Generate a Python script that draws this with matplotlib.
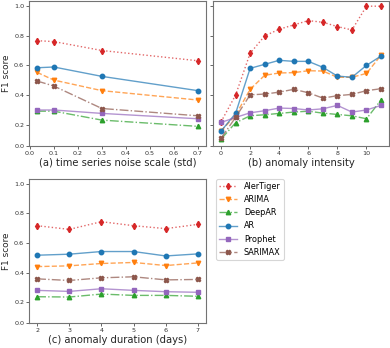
import matplotlib
matplotlib.use("Agg")
import matplotlib.pyplot as plt
from matplotlib.colors import to_rgba

# methods and styles
methods = ["AlerTiger", "ARIMA", "DeepAR", "AR", "Prophet", "SARIMAX"]
colors = ["tab:red", "tab:orange", "tab:green", "tab:blue", "tab:purple", "tab:brown"]
styles = [":", "--", "-.", "-", "-", "-."]
markers = ["d", "v", "^", "o", "s", "X"]

# (a) noise scale
noise = [0.03, 0.1, 0.3, 0.7]
f1_noise = {
    "AlerTiger": [0.766, 0.760, 0.700, 0.631],
    "ARIMA":     [0.553, 0.501, 0.430, 0.367],
    "DeepAR":    [0.292, 0.292, 0.232, 0.190],
    "AR":        [0.584, 0.589, 0.526, 0.430],
    "Prophet":   [0.300, 0.300, 0.277, 0.241],
    "SARIMAX":   [0.495, 0.461, 0.310, 0.261],
}

# (b) anomaly intensity
intensity = [0, 1, 2, 3, 4, 5, 6, 7, 8, 9, 10, 11]
f1_intensity = {
    "AlerTiger": [0.22, 0.40, 0.681, 0.798, 0.843, 0.872, 0.901, 0.89, 0.861, 0.838, 0.998, 0.998],
    "ARIMA":     [0.158, 0.265, 0.439, 0.533, 0.549, 0.551, 0.564, 0.562, 0.52, 0.52, 0.546, 0.668],
    "DeepAR":    [0.104, 0.214, 0.261, 0.268, 0.277, 0.286, 0.292, 0.279, 0.27, 0.261, 0.241, 0.367],
    "AR":        [0.158, 0.277, 0.58, 0.607, 0.634, 0.627, 0.627, 0.587, 0.528, 0.52, 0.60, 0.663],
    "Prophet":   [0.216, 0.25, 0.281, 0.295, 0.313, 0.31, 0.30, 0.308, 0.331, 0.286, 0.30, 0.331],
    "SARIMAX":   [0.11, 0.25, 0.402, 0.407, 0.42, 0.439, 0.416, 0.38, 0.396, 0.405, 0.43, 0.443],
}

# (c) anomaly duration
duration = [2, 3, 4, 5, 6, 7]
f1_duration = {
    "AlerTiger": [0.717, 0.692, 0.744, 0.717, 0.697, 0.726],
    "ARIMA":     [0.440, 0.445, 0.461, 0.468, 0.447, 0.465],
    "DeepAR":    [0.236, 0.234, 0.254, 0.245, 0.245, 0.239],
    "AR":        [0.517, 0.524, 0.542, 0.542, 0.512, 0.526],
    "Prophet":   [0.279, 0.272, 0.290, 0.279, 0.270, 0.266],
    "SARIMAX":   [0.357, 0.346, 0.364, 0.371, 0.350, 0.353],
}

ytick_vals = [0.2, 0.4, 0.6, 0.8, 1.0]
ytick_labels = ["0.0", "0.2", "0.4", "0.6", "0.8", "1.0"]
ylo, yhi = 0.058, 1.033

fig = plt.figure(figsize=(3.9, 3.48), dpi=100)
ax_a = fig.add_axes([0.0744, 0.5805, 0.4538, 0.4167])
ax_b = fig.add_axes([0.5462, 0.5805, 0.4513, 0.4167])
ax_c = fig.add_axes([0.0744, 0.0718, 0.4538, 0.4138])

panels = [
    (ax_a, noise, f1_noise, "(a) time series noise scale (std)"),
    (ax_b, intensity, f1_intensity, "(b) anomaly intensity"),
    (ax_c, duration, f1_duration, "(c) anomaly duration (days)"),
]

for ax, x, data, xlabel in panels:
    for m, c, ls, mk in zip(methods, colors, styles, markers):
        ax.plot(x, data[m], color=to_rgba(c, 0.7), ls=ls, lw=1,
                marker=mk, ms=3.2, mfc=c, mec=c, label=m)
    ax.set_ylim(ylo, yhi)
    ax.set_yticks([ylo] + ytick_vals, labels=ytick_labels)
    ax.set_xlabel(xlabel, fontsize=7.2, labelpad=1.5, color="0.15")
    ax.tick_params(labelsize=4.6, length=2, width=0.6, pad=1.5,
                   colors="0.3", labelcolor="0.2")
    for s in ax.spines.values():
        s.set_color("0.45")
        s.set_linewidth(0.8)

ax_a.set_xticks([0.0, 0.1, 0.2, 0.3, 0.4, 0.5, 0.6, 0.7])
ax_b.set_xticks([0, 2, 4, 6, 8, 10])
ax_b.tick_params(labelleft=False)
ax_c.set_xticks(duration)

ax_a.set_ylabel("F1 score", fontsize=6.4, labelpad=2, color="0.15")
ax_c.set_ylabel("F1 score", fontsize=6.4, labelpad=2, color="0.15")

handles, labels = ax_a.get_legend_handles_labels()
leg = fig.legend(handles, labels, loc="upper left", bbox_to_anchor=(0.554, 0.486),
                 fontsize=5.9, handlelength=2.2, borderaxespad=0, frameon=True)
leg.get_frame().set_edgecolor("0.8")
leg.get_frame().set_linewidth(0.8)

fig.savefig("out.png", dpi=100)
